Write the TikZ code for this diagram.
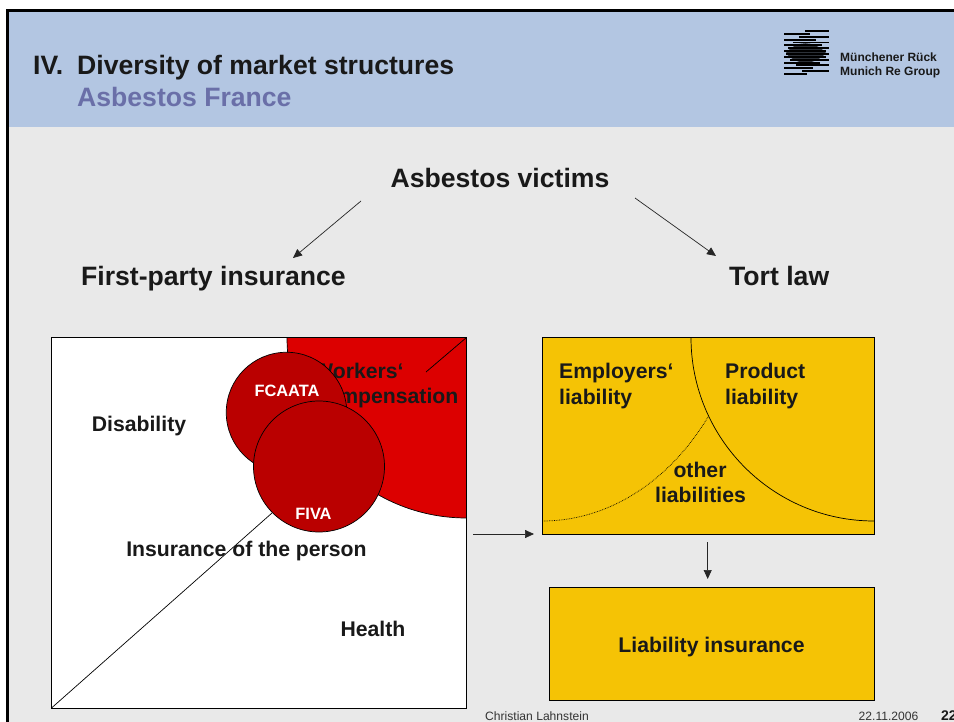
\documentclass[tikz,border=0pt]{standalone}
\usepackage{fontspec}
\setmainfont{Liberation Sans}
\usetikzlibrary{arrows.meta}
\definecolor{headblue}{HTML}{B3C6E2}
\definecolor{slategrey}{HTML}{E9E9E9}
\definecolor{subtitle}{HTML}{6A6FA8}
\definecolor{wcred}{HTML}{DC0000}
\definecolor{darkred}{HTML}{BA0000}
\definecolor{gold}{HTML}{F5C305}
\tikzset{
  lbl/.style={font=\bfseries\fontsize{#1}{#1}\selectfont,inner sep=0pt,text=black!90},
  lbl/.default=21.2,
  foot/.style={inner sep=0pt,anchor=base west,font=\fontsize{12.1}{12.1}\selectfont,text=black!80},
  conn/.style={draw=black!85,line width=0.7pt,-{Triangle[length=9pt,width=8pt]}},
  edgeline/.style={draw=black,line width=0.7pt},
  stripe/.style={black,line width=1.9pt}
}
\begin{document}
\begin{tikzpicture}[x=1pt,y=-1pt]
\useasboundingbox (0,0) rectangle (954,722);
\fill[white] (0,0) rectangle (954,722);
\fill[slategrey] (7,10) rectangle (954,722);
\fill[headblue] (7,10) rectangle (954,127.5);
\draw[black,line width=2.6pt] (7.2,722) -- (7.2,10.3) -- (954,10.3);
% title
\node[lbl=26.6,anchor=base west] (n4) at (33,75) {IV.};
\node[lbl=26.6,anchor=base west] (ttl) at (77,75) {Diversity of market structures};
\node[lbl=26.6,anchor=base west,text=subtitle] (sub) at (77,107) {Asbestos France};
% logo
\foreach \yy/\xa/\xb in {31/805/829,33.9/784/810,36.7/799/829,39.6/784/816,42.5/793/829,45.4/784/822,48.2/788/829,51.1/784/826,
 54/786/829,56.8/784/826,59.7/790/829,62.6/784/820,65.4/796/829,68.3/784/813,71.2/802/829,74/784/807}
  \draw[stripe] (\xa,\yy) -- (\xb,\yy);
\fill[black,fill opacity=0.75] (786,53) .. controls (796,40) and (814,40) .. (826,53) .. controls (814,66) and (796,66) .. (786,53) -- cycle;
\node[lbl=12,anchor=base west] (mr1) at (840,61.5) {Münchener Rück};
\node[lbl=12,anchor=base west] (mr2) at (840,75.5) {Munich Re Group};
% headings
\node[lbl=26.6,anchor=base] (vict) at (500,188) {Asbestos victims};
\node[lbl=26.6,anchor=base west] (fpi) at (81,286) {First-party insurance};
\node[lbl=26.6,anchor=base west] (tort) at (729,286) {Tort law};
\coordinate (a1s) at (361,201); \coordinate (a1e) at (293,258);
\coordinate (a2s) at (635,198); \coordinate (a2e) at (716,256);
\draw[conn] (a1s) -- (a1e);
\draw[conn] (a2s) -- (a2e);
% left box
\fill[white] (51.5,337.5) rectangle (466.5,708);
\filldraw[fill=wcred,edgeline] (466.5,337.5) -- (287,337.5) .. controls (287,437) and (367,518) .. (466.5,518) -- cycle;
\draw[edgeline] (51.5,337.5) rectangle (466.5,708);
\node[lbl,anchor=base west] (wc1) at (313,378) {Workers‘};
\node[lbl,anchor=base east] (wc2) at (458.5,403) {compensation};
\draw[edgeline] (426,372) -- (466.5,337.5);
\node[lbl,anchor=base] (dis) at (139,431) {Disability};
\node[lbl,anchor=base] (ins) at (246.5,556) {Insurance of the person};
\node[lbl,anchor=base] (hea) at (373,636) {Health};
\coordinate (lbc) at (51.5,708);
\node[circle,fill=darkred,draw=black,line width=0.7pt,minimum size=120.5pt,inner sep=0pt] (fc) at (286.5,412.5) {};
\node[circle,fill=darkred,draw=black,line width=0.7pt,minimum size=131pt,inner sep=0pt] (fv) at (319,466.5) {};
\draw[edgeline] (lbc) -- (272,513);
\node[lbl=16.4,text=white,anchor=base] (fct) at (287,396) {FCAATA};
\node[lbl=16.4,text=white,anchor=base] (fvt) at (313.5,519) {FIVA};
% right
\filldraw[fill=gold,edgeline] (542,337.5) rectangle (874,534.5);
\coordinate (tbw) at (534,534);
\draw[edgeline] (691,337.5) .. controls (691,438.6) and (772.9,521) .. (874,521);
\draw[black,line width=0.7pt,densely dotted] (708,417) .. controls (670,480) and (610,521) .. (542,521);
\node[lbl,anchor=base west] (e1) at (559,378) {Employers‘};
\node[lbl,anchor=base west] (e2) at (559,404) {liability};
\node[lbl,anchor=base west] (p1) at (725,378) {Product};
\node[lbl,anchor=base west] (p2) at (725,404) {liability};
\node[lbl,anchor=base] (o1) at (700,477) {other};
\node[lbl,anchor=base] (o2) at (700.5,502) {liabilities};
\filldraw[fill=gold,edgeline] (549.5,587) rectangle (874,700);
\node[lbl,anchor=base] (lit) at (711.5,652) {Liability insurance};
\coordinate (a3s) at (473,534); \coordinate (a4s) at (707.7,542); \coordinate (a4e) at (707.7,579);
\draw[conn] (a3s) -- (tbw);
\draw[conn] (a4s) -- (a4e);
% footer
\node[foot] (au) at (485,720) {Christian Lahnstein};
\node[foot] (dt) at (858.5,720) {22.11.2006};
\node[lbl=14,anchor=base west] (pg) at (941,720) {22};
\end{tikzpicture}
\end{document}
